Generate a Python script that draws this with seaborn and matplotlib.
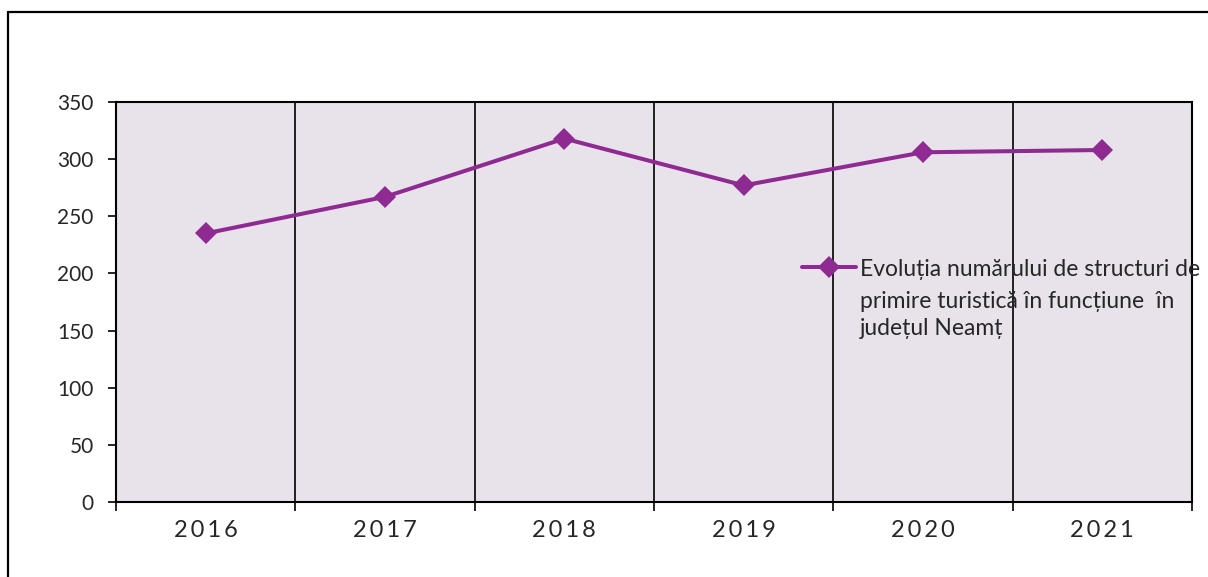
import matplotlib
matplotlib.use("Agg")
import matplotlib.pyplot as plt
import matplotlib.lines as mlines
import seaborn as sns
import pandas as pd

# data
years = ["2016", "2017", "2018", "2019", "2020", "2021"]
structures = [235, 267, 318, 277, 306, 308]
label_lines = ["Evoluția numărului de structuri de",
               "primire turistică în funcțiune  în",
               "județul Neamț"]

line_color = "#8E2A91"
bg_color = "#E8E3EA"

sns.set_theme(style="white")
plt.rcParams["font.family"] = ["Lato", "DejaVu Sans"]

df = pd.DataFrame({"pos": range(len(years)), "value": structures})

fig = plt.figure(figsize=(12.08, 5.77), dpi=100)
ax = fig.add_axes([116 / 1208, 75 / 577, 1076 / 1208, 400 / 577])
ax.set_facecolor(bg_color)

sns.lineplot(data=df, x="pos", y="value", ax=ax, color=line_color,
             linewidth=2.9, marker="D", markersize=11, markeredgewidth=0,
             label=label_lines[0])

ax.set_xlim(-0.5, len(years) - 0.5)
ax.set_ylim(0, 350)
ax.set_yticks(range(0, 351, 50))
ax.set_xlabel("")
ax.set_ylabel("")

# boundaries between categories carry the ticks and grid lines
ax.set_xticks([i - 0.5 for i in range(len(years) + 1)])
ax.set_xticklabels([])
ax.set_xticks(range(len(years)), minor=True)
ax.set_xticklabels(["\u2009".join(y) for y in years], minor=True, fontsize=17)
ax.tick_params(axis="x", which="major", direction="out", length=6.5,
               width=1.2, color="black", bottom=True)
ax.tick_params(axis="x", which="minor", length=0, pad=13, bottom=True)
ax.tick_params(axis="y", direction="out", length=6, width=1.2,
               color="black", left=True, labelsize=15, pad=10)
ax.xaxis.grid(True, which="major", color="black", linewidth=1.2)
ax.yaxis.grid(False)

for s in ax.spines.values():
    s.set_color("black")
    s.set_linewidth(1.5)

leg = ax.legend(loc="center left", bbox_to_anchor=((802 - 116) / 1076, (502 - 269) / 400),
                frameon=False, fontsize=16.5, handlelength=2.35,
                handletextpad=0.17, borderaxespad=0, borderpad=0)

# the rest of the wrapped legend label sits under its first line
ax.annotate("\n".join(label_lines[1:]), xy=(0, 0), xycoords=leg.get_texts()[0],
            xytext=(0, -8), textcoords="offset points", ha="left", va="top",
            fontsize=16.5, linespacing=1.4, zorder=10, annotation_clip=False,
            color=leg.get_texts()[0].get_color())

# outer chart frame
fig.add_artist(mlines.Line2D([8 / 1208, 8 / 1208], [-0.1, 1 - 12 / 577],
                             transform=fig.transFigure, color="black", linewidth=1.6))
fig.add_artist(mlines.Line2D([8 / 1208, 1.1], [1 - 12 / 577, 1 - 12 / 577],
                             transform=fig.transFigure, color="black", linewidth=1.6))

fig.savefig("out.png", dpi=100)
